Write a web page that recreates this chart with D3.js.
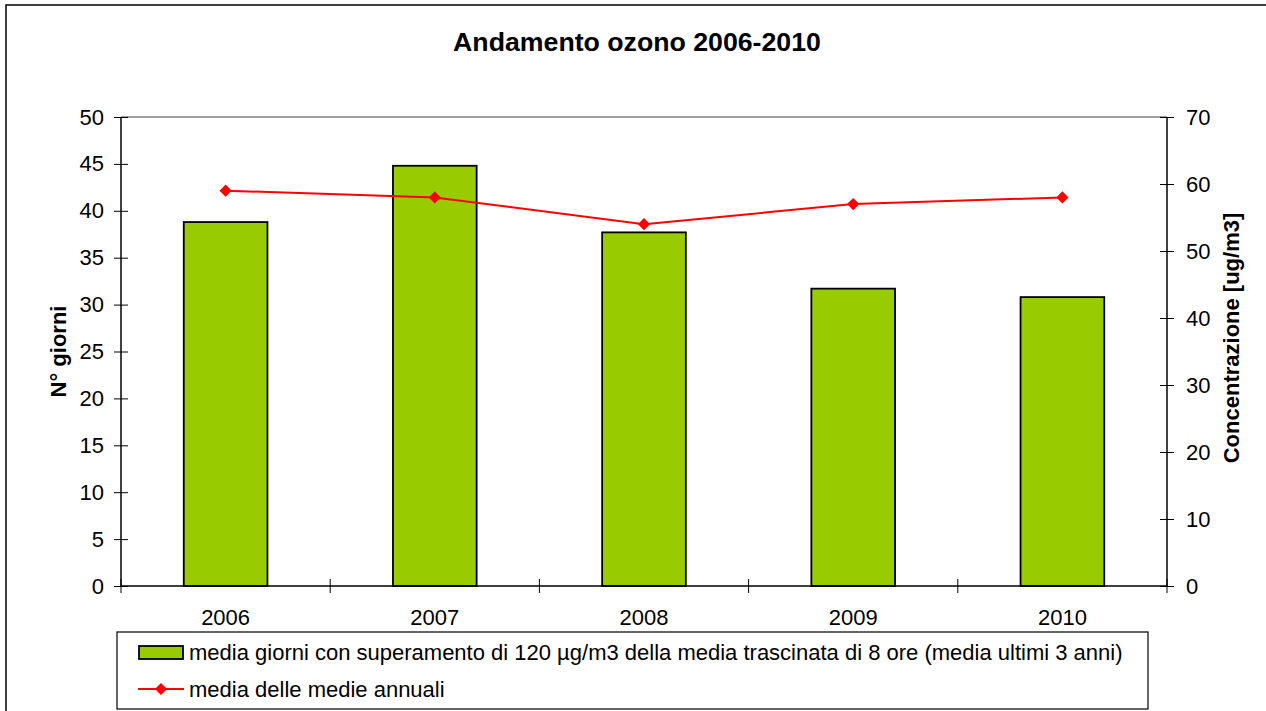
<!DOCTYPE html>
<html>
<head>
<meta charset="utf-8">
<script src="https://cdn.jsdelivr.net/npm/d3@7"></script>
<style>
  body { margin: 0; background: #fff; }
  svg { display: block; font-family: "Liberation Sans", Arial, sans-serif; }
</style>
</head>
<body>
<svg id="chart" width="1266" height="711"></svg>
<script>
// Data
const years = ["2006", "2007", "2008", "2009", "2010"];
const giorni = [38.8, 44.8, 37.7, 31.7, 30.8];      // bars, left axis
const concentrazione = [59, 58, 54, 57, 58];        // line, right axis
const leftTicks = [0, 5, 10, 15, 20, 25, 30, 35, 40, 45, 50];
const rightTicks = [0, 10, 20, 30, 40, 50, 60, 70];

const title = "Andamento ozono 2006-2010";
const leftLabel = "N° giorni";
const rightLabel = "Concentrazione [ug/m3]";
const legendBar = "media giorni con superamento di 120 µg/m3 della media trascinata di 8 ore (media ultimi 3 anni)";
const legendLine = "media delle medie annuali";

// Layout
const plot = { left: 121, right: 1167, top: 117, bottom: 586 };
const fontSize = 22;
const green = "#99CC00";
const red = "#FF0000";

const svg = d3.select("#chart");

// Outer chart border
svg.append("rect")
    .attr("x", 6).attr("y", 5)
    .attr("width", 1300).attr("height", 800)
    .attr("fill", "none")
    .attr("stroke", "#000")
    .attr("stroke-width", 1.5);

// Scales
const x = d3.scaleBand()
    .domain(years)
    .range([plot.left, plot.right])
    .paddingInner(0).paddingOuter(0);

const yLeft = d3.scaleLinear().domain([0, 50]).range([plot.bottom, plot.top]);
const yRight = d3.scaleLinear().domain([0, 70]).range([plot.bottom, plot.top]);

// Plot area top border (gray)
svg.append("line")
    .attr("x1", plot.left).attr("x2", plot.right)
    .attr("y1", plot.top).attr("y2", plot.top)
    .attr("stroke", "#808080")
    .attr("stroke-width", 1.5);

// Bars
const barW = x.bandwidth() * 0.4;
svg.append("g")
    .selectAll("rect")
    .data(years)
    .join("rect")
    .attr("x", d => x(d) + (x.bandwidth() - barW) / 2)
    .attr("y", (d, i) => yLeft(giorni[i]))
    .attr("width", barW)
    .attr("height", (d, i) => yLeft(0) - yLeft(giorni[i]))
    .attr("fill", green)
    .attr("stroke", "#000")
    .attr("stroke-width", 1.8);

// Left axis
const gLeft = svg.append("g")
    .attr("transform", `translate(${plot.left},0)`)
    .call(d3.axisLeft(yLeft).tickValues(leftTicks).tickSize(7).tickPadding(10));
gLeft.selectAll(".tick line").attr("x1", 7).attr("x2", -7);

// Right axis
const gRight = svg.append("g")
    .attr("transform", `translate(${plot.right},0)`)
    .call(d3.axisRight(yRight).tickValues(rightTicks).tickSize(7).tickPadding(12));
gRight.selectAll(".tick line").attr("x1", -7).attr("x2", 7);

// Bottom axis: labels at band centres, ticks at band boundaries
const gBottom = svg.append("g")
    .attr("transform", `translate(0,${plot.bottom})`)
    .call(d3.axisBottom(x).tickSize(0).tickPadding(23));
gBottom.selectAll(".tick line").remove();
const bounds = years.map(d => x(d)).concat([plot.right]);
gBottom.selectAll("line.bound")
    .data(bounds)
    .join("line")
    .attr("class", "bound")
    .attr("x1", d => d).attr("x2", d => d)
    .attr("y1", -7).attr("y2", 7)
    .attr("stroke", "#000");

[gLeft, gRight, gBottom].forEach(g => {
    g.selectAll(".domain").attr("stroke", "#000").attr("stroke-width", 1.5);
    g.selectAll(".tick line").attr("stroke", "#000");
    g.selectAll("text")
        .attr("font-size", fontSize)
        .attr("font-family", "Liberation Sans, Arial, sans-serif")
        .attr("fill", "#000");
});
gBottom.select(".domain").attr("d", `M${plot.left},0H${plot.right}`);
gLeft.select(".domain").attr("d", `M0,${plot.bottom}V${plot.top}`);
gRight.select(".domain").attr("d", `M0,${plot.bottom}V${plot.top}`);

// Line series
const lineGen = d3.line()
    .x((d, i) => x(years[i]) + x.bandwidth() / 2)
    .y(d => yRight(d));

svg.append("path")
    .datum(concentrazione)
    .attr("d", lineGen)
    .attr("fill", "none")
    .attr("stroke", red)
    .attr("stroke-width", 2);

const diamond = d3.symbol().type(d3.symbolDiamond2).size(95);
svg.append("g")
    .selectAll("path")
    .data(concentrazione)
    .join("path")
    .attr("d", diamond)
    .attr("transform", (d, i) => `translate(${x(years[i]) + x.bandwidth() / 2},${yRight(d)})`)
    .attr("fill", red);

// Title
svg.append("text")
    .attr("x", 637).attr("y", 51)
    .attr("text-anchor", "middle")
    .attr("font-size", 26.7)
    .attr("font-weight", "bold")
    .text(title);

// Axis titles
svg.append("text")
    .attr("transform", `translate(66,${(plot.top + plot.bottom) / 2}) rotate(-90)`)
    .attr("text-anchor", "middle")
    .attr("font-size", fontSize)
    .attr("font-weight", "bold")
    .text(leftLabel);

svg.append("text")
    .attr("transform", `translate(1239,338) rotate(-90)`)
    .attr("text-anchor", "middle")
    .attr("font-size", fontSize)
    .attr("font-weight", "bold")
    .text(rightLabel);

// Legend
const legend = svg.append("g");
legend.append("rect")
    .attr("x", 117).attr("y", 632)
    .attr("width", 1031).attr("height", 77)
    .attr("fill", "#fff")
    .attr("stroke", "#000")
    .attr("stroke-width", 1.2);

legend.append("rect")
    .attr("x", 139).attr("y", 646)
    .attr("width", 44).attr("height", 13)
    .attr("fill", green)
    .attr("stroke", "#000")
    .attr("stroke-width", 1.8);
legend.append("text")
    .attr("x", 189).attr("y", 660)
    .attr("font-size", fontSize)
    .text(legendBar);

legend.append("line")
    .attr("x1", 138).attr("x2", 184)
    .attr("y1", 689).attr("y2", 689)
    .attr("stroke", red)
    .attr("stroke-width", 2);
legend.append("path")
    .attr("d", diamond)
    .attr("transform", "translate(161,689)")
    .attr("fill", red);
legend.append("text")
    .attr("x", 189).attr("y", 697)
    .attr("font-size", fontSize)
    .text(legendLine);
</script>
</body>
</html>
